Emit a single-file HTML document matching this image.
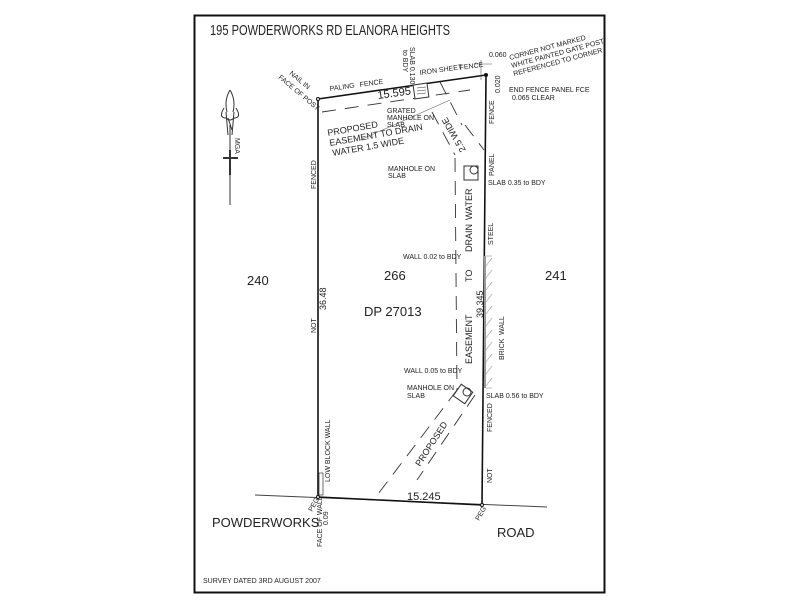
<!DOCTYPE html>
<html><head><meta charset="utf-8"><style>
html,body{margin:0;padding:0;background:#fff;width:800px;height:600px;overflow:hidden}
svg{display:block}
text{font-family:"Liberation Sans",sans-serif;fill:#222}
.s{font-size:7px}
.m{font-size:9px}
</style></head><body>
<svg width="800" height="600" viewBox="0 0 800 600">
<rect x="194.5" y="15.5" width="410" height="577" fill="none" stroke="#111" stroke-width="2"/>
<text x="210" y="35" font-size="15" textLength="240" lengthAdjust="spacingAndGlyphs">195 POWDERWORKS RD ELANORA HEIGHTS</text>

<!-- north arrow -->
<g stroke="#333" fill="none" stroke-width="1">
<line x1="230" y1="125" x2="230" y2="205"/>
<line x1="223" y1="158" x2="238" y2="158" stroke-width="2"/>
<line x1="230" y1="150" x2="230" y2="175" stroke-width="2"/>
<path d="M230 90 Q224 100 227 112 M230 90 Q236 100 233 112"/>
<path d="M224 108 Q218 118 226 118 Q230 122 234 118 Q242 118 236 108"/>
<path d="M226 112 L228 135 M234 112 L232 135 M228 118 L232 130"/>
</g>
<text class="s" transform="translate(235,138) rotate(90)">MGA</text>

<!-- road line -->
<line x1="255" y1="495" x2="547" y2="507" stroke="#444" stroke-width="1"/>
<!-- boundaries -->
<g stroke="#111" stroke-width="1.6" fill="none">
<line x1="318" y1="99" x2="486" y2="75"/>
<line x1="318" y1="99" x2="318" y2="497"/>
<line x1="486" y1="75" x2="482" y2="505"/>
<line x1="318" y1="497" x2="482" y2="505"/>
</g>
<circle cx="318" cy="99" r="1.5" fill="#fff" stroke="#111"/>
<circle cx="486" cy="75" r="2" fill="#111"/>
<circle cx="318" cy="497" r="1.5" fill="#fff" stroke="#111"/>
<circle cx="482" cy="505" r="1.5" fill="#fff" stroke="#111"/>
<rect x="319" y="473" width="4" height="22" fill="none" stroke="#333" stroke-width="0.7"/>

<!-- brick wall hatch -->
<line x1="485" y1="256" x2="485" y2="388" stroke="#999" stroke-width="2"/>
<g stroke="#999" stroke-width="0.6">
<line x1="486" y1="266" x2="492" y2="258"/><line x1="486" y1="278" x2="492" y2="270"/>
<line x1="486" y1="290" x2="492" y2="282"/><line x1="486" y1="302" x2="492" y2="294"/>
<line x1="486" y1="314" x2="492" y2="306"/><line x1="486" y1="326" x2="492" y2="318"/>
<line x1="486" y1="338" x2="492" y2="330"/><line x1="486" y1="350" x2="492" y2="342"/>
<line x1="486" y1="362" x2="492" y2="354"/><line x1="486" y1="374" x2="492" y2="366"/>
<line x1="486" y1="386" x2="492" y2="378"/>
<line x1="486" y1="256" x2="492" y2="256"/><line x1="486" y1="388" x2="492" y2="388"/>
</g>

<!-- easement dashes -->
<g stroke="#333" stroke-width="0.9" fill="none" stroke-dasharray="14,9">
<line x1="322" y1="112" x2="470" y2="90"/>
<line x1="440" y1="82" x2="462" y2="125"/>
<line x1="432" y1="112" x2="455" y2="155"/>
<line x1="465" y1="125" x2="484" y2="150"/>
<line x1="455" y1="158" x2="457" y2="390"/>
<line x1="457" y1="390" x2="375" y2="498"/>
<line x1="475" y1="395" x2="417" y2="480"/>
</g>
<line x1="360" y1="140" x2="450" y2="100" stroke="#666" stroke-width="0.6"/>

<!-- manholes -->
<rect x="414" y="84" width="14" height="14" fill="#fff" stroke="#333" transform="rotate(-8 421 91)"/>
<g stroke="#333" stroke-width="0.6"><line x1="417" y1="88" x2="426" y2="87"/><line x1="417" y1="91" x2="426" y2="90"/><line x1="417" y1="94" x2="426" y2="93"/></g>
<rect x="464" y="166" width="14" height="14" fill="#fff" stroke="#333"/>
<circle cx="474" cy="170" r="4" fill="none" stroke="#333"/>
<rect x="456" y="387" width="14" height="14" fill="#fff" stroke="#333" transform="rotate(35 463 394)"/>
<circle cx="467" cy="392" r="4" fill="none" stroke="#333"/>
<line x1="481" y1="60" x2="481" y2="80" stroke="#555" stroke-width="0.6"/>
<line x1="475" y1="64" x2="492" y2="64" stroke="#555" stroke-width="0.6"/>

<!-- labels -->
<text x="247" y="285" font-size="13">240</text>
<text x="384" y="280" font-size="13">266</text>
<text x="545" y="280" font-size="13">241</text>
<text x="364" y="316" font-size="13">DP  27013</text>
<text x="378" y="99" font-size="11" transform="rotate(-8 378 99)">15.595</text>
<text x="407" y="500" font-size="11">15.245</text>
<text x="212" y="527" font-size="13">POWDERWORKS</text>
<text x="497" y="537" font-size="13">ROAD</text>
<text x="203" y="583" class="s" font-size="6">SURVEY DATED 3RD AUGUST 2007</text>

<text class="s" transform="translate(330,91) rotate(-8)">PALING</text>
<text class="s" transform="translate(360,87) rotate(-8)">FENCE</text>
<text class="s" transform="translate(420,75) rotate(-8)">IRON  SHEET</text>
<text class="s" transform="translate(460,70) rotate(-8)">FENCE</text>
<text class="s" transform="translate(289,74) rotate(40)">NAIL IN</text>
<text class="s" transform="translate(278,78) rotate(40)">FACE OF POST</text>
<text class="s" transform="translate(410,47) rotate(90)">SLAB 0.130</text>
<text class="s" transform="translate(403,50) rotate(90)">to BDY</text>
<text class="s" x="489" y="57">0.060</text>
<text class="s" transform="translate(510,60) rotate(-15)">CORNER NOT MARKED</text>
<text class="s" transform="translate(512,68) rotate(-15)">WHITE PAINTED GATE POST</text>
<text class="s" transform="translate(514,76) rotate(-15)">REFERENCED TO CORNER</text>
<text class="s" transform="translate(500,93) rotate(-90)">0.020</text>
<text class="s" x="509" y="92">END FENCE PANEL FCE</text>
<text class="s" x="512" y="100">0.065 CLEAR</text>
<text class="s" x="388" y="171">MANHOLE ON</text>
<text class="s" x="388" y="178">SLAB</text>
<text class="s" x="387" y="113">GRATED</text>
<text class="s" x="387" y="120">MANHOLE ON</text>
<text class="s" x="387" y="127">SLAB</text>
<text class="m" transform="translate(328,136) rotate(-10)">PROPOSED</text>
<text class="m" transform="translate(330,146) rotate(-10)">EASEMENT TO DRAIN</text>
<text class="m" transform="translate(333,156) rotate(-10)">WATER 1.5  WIDE</text>
<text class="m" transform="translate(466,150) rotate(240)">2.5  WIDE</text>
<text class="s" transform="translate(494,124) rotate(-90)">FENCE</text>
<text class="s" transform="translate(494,176) rotate(-90)">PANEL</text>
<text class="s" x="488" y="185">SLAB 0.35 to BDY</text>
<text class="s" transform="translate(493,245) rotate(-90)">STEEL</text>
<text class="s" x="403" y="259">WALL 0.02 to BDY</text>
<text class="s" transform="translate(504,335) rotate(-90)">WALL</text>
<text class="s" transform="translate(504,360) rotate(-90)">BRICK</text>
<text class="m" transform="translate(472,220) rotate(-90)">WATER</text>
<text class="m" transform="translate(472,252) rotate(-90)">DRAIN</text>
<text class="m" transform="translate(472,282) rotate(-90)">TO</text>
<text class="m" transform="translate(483,318) rotate(-90)">39.345</text>
<text class="m" transform="translate(472,364) rotate(-90)">EASEMENT</text>
<text class="s" x="404" y="373">WALL 0.05 to BDY</text>
<text class="s" x="407" y="390">MANHOLE ON</text>
<text class="s" x="407" y="398">SLAB</text>
<text class="s" x="486" y="398">SLAB 0.56 to BDY</text>
<text class="s" transform="translate(492,432) rotate(-90)">FENCED</text>
<text class="s" transform="translate(492,483) rotate(-90)">NOT</text>
<text class="s" transform="translate(316,189) rotate(-90)">FENCED</text>
<text class="m" transform="translate(326,310) rotate(-90)">36.48</text>
<text class="s" transform="translate(316,333) rotate(-90)">NOT</text>
<text class="s" transform="translate(330,482) rotate(-90)">LOW BLOCK WALL</text>
<text class="m" transform="translate(420,467) rotate(-57)">PROPOSED</text>
<text class="s" transform="translate(312,512) rotate(-60)">PEG</text>
<text class="s" transform="translate(479,521) rotate(-60)">PEG</text>
<text class="s" transform="translate(322,547) rotate(-90)">FACE OF WALL</text>
<text class="s" transform="translate(328,525) rotate(-90)">0.09</text>
</svg>
</body></html>
